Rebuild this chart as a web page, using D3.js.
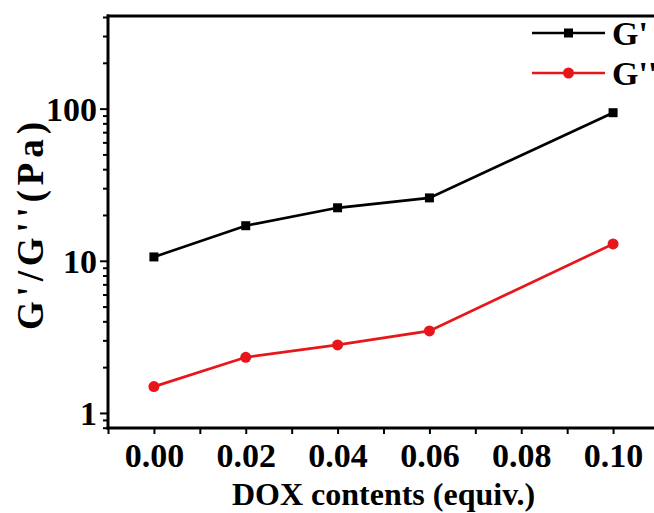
<!DOCTYPE html>
<html>
<head>
<meta charset="utf-8">
<script src="https://cdn.jsdelivr.net/npm/d3@7"></script>
<style>
  html, body { margin: 0; padding: 0; background: #fff; }
  svg text { font-family: "Liberation Serif", "Times New Roman", serif; font-weight: bold; fill: #000; }
</style>
</head>
<body>
<svg id="chart" width="654" height="513"></svg>
<script>
// DOX content (equiv.) on the x axis
const doxContents = [0.00, 0.02, 0.04, 0.06, 0.10];
// Storage modulus G' and loss modulus G'' (Pa)
const gPrime = [10.6, 17.0, 22.3, 25.9, 94];
const gDoublePrime = [1.49, 2.32, 2.80, 3.46, 12.9];
const seriesNames = ["G'", "G''"];
const seriesColors = ["#000000", "#e8161b"];
const xTickValues = [0.00, 0.02, 0.04, 0.06, 0.08, 0.10];
const yTickValues = [1, 10, 100];

const svg = d3.select("#chart");

const x = d3.scaleLinear().domain([-0.01, 0.11]).range([108, 659]);
// log axis: one decade is about 152 px
const y = d3.scaleLog().domain([0.8, 400]).range([427.7, 17]);

const plotLeft = 108, plotTop = 16, plotBottom = 428, plotRight = 659;

// minor tick positions
const yMinor = [];
[0.1, 1, 10, 100].forEach(d => {
  for (let k = 2; k <= 9; k++) {
    const v = d * k;
    if (v >= 0.8 && v <= 400) yMinor.push(v);
  }
});
const xMinor = d3.range(-0.01, 0.115, 0.02).map(v => +v.toFixed(3));

// top border
svg.append("line")
  .attr("x1", plotLeft - 1).attr("x2", plotRight)
  .attr("y1", plotTop).attr("y2", plotTop)
  .attr("stroke", "#000").attr("stroke-width", 3);

// y axis
const yAxis = svg.append("g").attr("transform", `translate(${plotLeft},0)`);
yAxis.append("g")
  .call(d3.axisLeft(y).tickValues(yMinor).tickSize(5).tickFormat(""))
  .call(g => g.select(".domain").remove())
  .call(g => g.selectAll("line").attr("stroke-width", 2));
yAxis.append("g")
  .call(d3.axisLeft(y).tickValues(yTickValues).tickSize(8).tickPadding(3).tickFormat(d3.format("d")))
  .call(g => g.select(".domain").remove())
  .call(g => g.selectAll("line").attr("stroke-width", 2))
  .call(g => g.selectAll("text").style("font-size", "34px").attr("dy", "0.34em"));
svg.append("line")
  .attr("x1", plotLeft).attr("x2", plotLeft)
  .attr("y1", plotTop - 1.5).attr("y2", plotBottom + 1.5)
  .attr("stroke", "#000").attr("stroke-width", 3);

// x axis
const xAxis = svg.append("g").attr("transform", `translate(0,${plotBottom})`);
xAxis.append("g")
  .call(d3.axisBottom(x).tickValues(xMinor).tickSize(6).tickFormat(""))
  .call(g => g.select(".domain").remove())
  .call(g => g.selectAll("line").attr("stroke-width", 2));
xAxis.append("g")
  .call(d3.axisBottom(x).tickValues(xTickValues).tickSize(6).tickPadding(9).tickFormat(d3.format(".2f")))
  .call(g => g.select(".domain").remove())
  .call(g => g.selectAll("line").attr("stroke-width", 2))
  .call(g => g.selectAll("text").style("font-size", "34px").attr("dy", "0.71em"));
svg.append("line")
  .attr("x1", plotLeft - 1.5).attr("x2", plotRight)
  .attr("y1", plotBottom).attr("y2", plotBottom)
  .attr("stroke", "#000").attr("stroke-width", 3);

// axis titles
svg.append("text")
  .attr("x", (plotLeft + plotRight) / 2).attr("y", 505)
  .attr("text-anchor", "middle")
  .style("font-size", "32px")
  .text("DOX contents (equiv.)");

svg.append("text")
  .attr("transform", "translate(43,226) rotate(-90)")
  .attr("text-anchor", "middle")
  .attr("textLength", 208)
  .attr("lengthAdjust", "spacing")
  .style("font-size", "37px")
  .text("G'/G''(Pa)");

// series
const series = [gPrime, gDoublePrime];
const line = d3.line().x((d, i) => x(doxContents[i])).y(d => y(d));

series.forEach((vals, s) => {
  svg.append("path")
    .datum(vals)
    .attr("d", line)
    .attr("fill", "none")
    .attr("stroke", seriesColors[s])
    .attr("stroke-width", 2.7);
  if (s === 0) {
    svg.append("g").selectAll("rect").data(vals).join("rect")
      .attr("x", (d, i) => x(doxContents[i]) - 4.5)
      .attr("y", d => y(d) - 4.5)
      .attr("width", 9).attr("height", 9)
      .attr("fill", seriesColors[s]);
  } else {
    svg.append("g").selectAll("circle").data(vals).join("circle")
      .attr("cx", (d, i) => x(doxContents[i]))
      .attr("cy", d => y(d))
      .attr("r", 5.5)
      .attr("fill", seriesColors[s]);
  }
});

// legend
const legend = svg.append("g");
seriesNames.forEach((name, s) => {
  const ly = 33 + s * 40;
  legend.append("line")
    .attr("x1", 532).attr("x2", 605).attr("y1", ly).attr("y2", ly)
    .attr("stroke", seriesColors[s]).attr("stroke-width", 2.7);
  if (s === 0) {
    legend.append("rect").attr("x", 564).attr("y", ly - 4.5).attr("width", 9).attr("height", 9)
      .attr("fill", seriesColors[s]);
  } else {
    legend.append("circle").attr("cx", 568.5).attr("cy", ly).attr("r", 5.5)
      .attr("fill", seriesColors[s]);
  }
  legend.append("text")
    .attr("x", 612).attr("y", ly + 12)
    .style("font-size", "34px")
    .text(name);
});
</script>
</body>
</html>
